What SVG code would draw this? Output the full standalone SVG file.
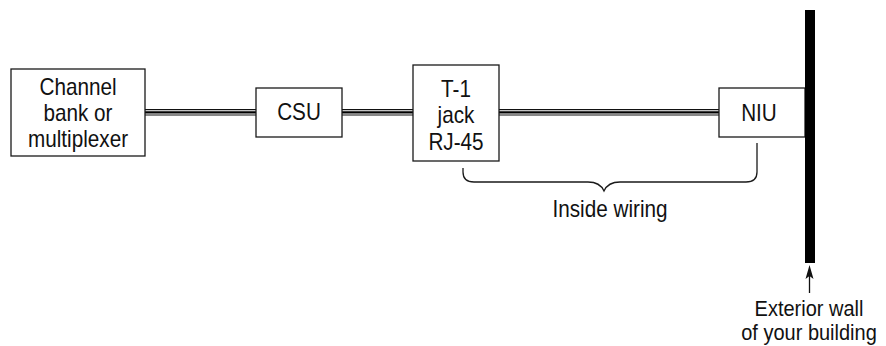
<svg xmlns="http://www.w3.org/2000/svg" width="886" height="346" viewBox="0 0 886 346">
  <style>
    .box { fill: #ffffff; stroke: #1a1a1a; stroke-width: 1.3; }
    /* condensed look: tall glyphs, narrowed horizontally via transform */
    .lbl { font-family: "Liberation Sans", Arial, sans-serif; font-size: 23px; fill: #111111; text-anchor: middle; }
    .note { font-size: 21.5px; }
    .thin { stroke: #111111; stroke-width: 1.1; fill: none; }
    .thick { stroke: #000000; stroke-width: 2.2; fill: none; }
    .brace { fill: none; stroke: #1a1a1a; stroke-width: 1.3; }
  </style>
  <rect width="886" height="346" fill="#ffffff"/>

  <g id="connectors">
    <g id="cable-mux-csu">
      <line class="thin" x1="145" y1="109.6" x2="256" y2="109.6"/>
      <line class="thick" x1="145" y1="112.3" x2="256" y2="112.3"/>
      <line class="thin" x1="145" y1="115" x2="256" y2="115"/>
    </g>
    <g id="cable-csu-jack">
      <line class="thin" x1="342" y1="109.6" x2="413" y2="109.6"/>
      <line class="thick" x1="342" y1="112.3" x2="413" y2="112.3"/>
      <line class="thin" x1="342" y1="115" x2="413" y2="115"/>
    </g>
    <g id="cable-jack-niu">
      <line class="thin" x1="499" y1="109.6" x2="719" y2="109.6"/>
      <line class="thick" x1="499" y1="112.3" x2="719" y2="112.3"/>
      <line class="thin" x1="499" y1="115" x2="719" y2="115"/>
    </g>
    <g id="wall-pointer">
      <line x1="809.5" y1="293" x2="809.5" y2="274" stroke="#111111" stroke-width="1.3"/>
      <polygon points="809.5,265 813.5,279 809.5,276 805.5,279" fill="#111111"/>
    </g>
  </g>

  <g id="mux">
    <rect class="box" x="11" y="69" width="134" height="87"/>
    <text class="lbl" transform="translate(78,95) scale(0.9,1)">Channel</text>
    <text class="lbl" transform="translate(78,121) scale(0.9,1)">bank or</text>
    <text class="lbl" transform="translate(78,147) scale(0.9,1)">multiplexer</text>
  </g>

  <g id="csu">
    <rect class="box" x="256" y="88" width="86" height="49"/>
    <text class="lbl" transform="translate(299,119.5) scale(0.9,1)">CSU</text>
  </g>

  <g id="jack">
    <rect class="box" x="413" y="65" width="86" height="96"/>
    <text class="lbl" transform="translate(456,97) scale(0.9,1)">T-1</text>
    <text class="lbl" transform="translate(456,123) scale(0.9,1)">jack</text>
    <text class="lbl" transform="translate(456,150) scale(0.9,1)">RJ-45</text>
  </g>

  <g id="niu">
    <rect class="box" x="719" y="88" width="86" height="49"/>
    <text class="lbl" transform="translate(759,121) scale(0.9,1)">NIU</text>
  </g>

  <g id="wall">
    <rect x="805" y="10" width="10" height="253" fill="#000000"/>
    <text class="lbl note" transform="translate(809,316) scale(0.93,1)">Exterior wall</text>
    <text class="lbl note" transform="translate(809,340) scale(0.93,1)">of your building</text>
  </g>

  <g id="inside-wiring">
    <path class="brace" d="M463,168 V172 Q463,182 474,182 H588 Q600,182 604,191 Q608,182 620,182 H746 Q757,182 757,172 V143"/>
    <text class="lbl" transform="translate(610,217) scale(0.9,1)">Inside wiring</text>
  </g>
</svg>
